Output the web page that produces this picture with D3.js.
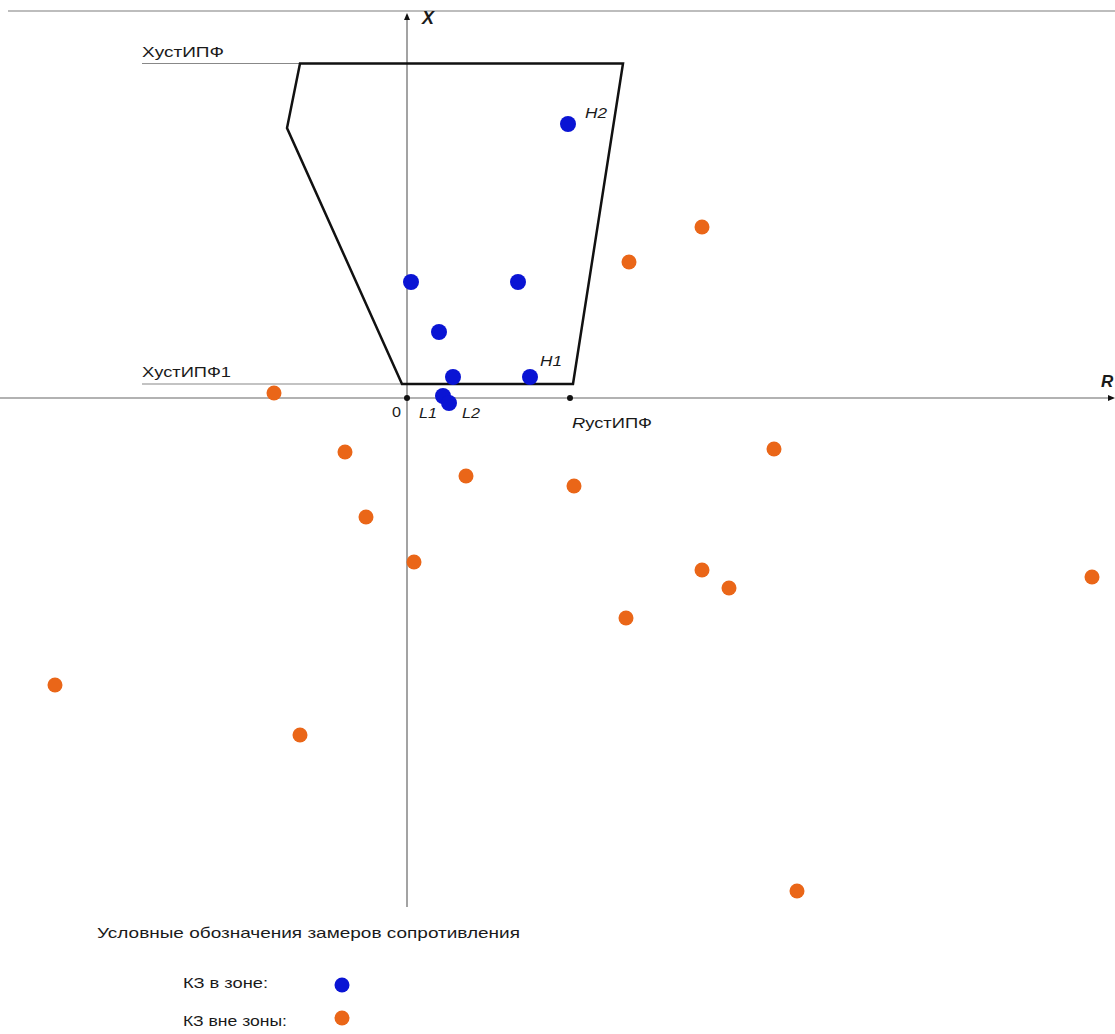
<!DOCTYPE html>
<html>
<head>
<meta charset="utf-8">
<script src="https://cdn.jsdelivr.net/npm/d3@7"></script>
<style>
  body { margin: 0; background: #fff; }
  text { font-family: "Liberation Sans", Arial, sans-serif; fill: #1a1a1a; }
</style>
</head>
<body>
<div id="chart"></div>
<script>
// impedance measurements, R and X in scale units
var inNames = ["H2", "", "", "", "", "H1", "L1", "L2"];
var inR = [16.1, 0.4, 11.1, 3.2, 4.6, 12.3, 3.6, 4.2];
var inX = [27.4, 11.6, 11.6, 6.6, 2.1, 2.1, 0.2, -0.5];

var outR = [29.5, 22.2, -13.3, -6.2, 5.9, 16.7, 36.7, -4.1, 0.7, 29.5, 32.2, 68.5, 21.9, -35.2, -10.7, 39.0];
var outX = [17.1, 13.6, 0.5, -5.4, -7.8, -8.8, -5.1, -11.9, -16.4, -17.2, -19.0, -17.9, -22.0, -28.7, -33.7, -49.3];

// characteristic polygon
var zoneR = [-10.7, 21.6, 16.6, -0.5, -12.0];
var zoneX = [33.45, 33.45, 1.4, 1.4, 27.0];

var xUst = 33.45, xUst1 = 1.4, rUst = 16.3;

var legendTitle = "Условные обозначения замеров сопротивления";
var legendLabels = ["КЗ в зоне:", "КЗ вне зоны:"];
var colors = ["#0a14d4", "#ea6618"];

var width = 1115, height = 1034;

var svg = d3.select("#chart").append("svg")
  .attr("width", width)
  .attr("height", height);

var x = d3.scaleLinear().domain([-40, 70]).range([7, 1107]);
var y = d3.scaleLinear().domain([40, -50]).range([-2, 898]);

// the source picture is stretched sideways, so text gets a fixed width
function label(px, py, str, len, size) {
  return svg.append("text")
    .attr("x", px).attr("y", py)
    .attr("textLength", len)
    .attr("lengthAdjust", "spacingAndGlyphs")
    .style("font-size", (size || 14) + "px")
    .text(str);
}

// frame line at top
svg.append("line")
  .attr("x1", 8).attr("x2", width)
  .attr("y1", 11).attr("y2", 11)
  .style("stroke", "#bdbdbd").style("stroke-width", 2);

// axes
svg.append("line")
  .attr("x1", 0).attr("x2", 1110)
  .attr("y1", y(0)).attr("y2", y(0))
  .style("stroke", "#666").style("stroke-width", 1.2);
svg.append("line")
  .attr("x1", x(0)).attr("x2", x(0))
  .attr("y1", 18).attr("y2", 907)
  .style("stroke", "#666").style("stroke-width", 1.2);

// arrows
svg.append("path")
  .attr("d", "M" + (x(0) - 3) + "," + 20 + "L" + x(0) + "," + 13 + "L" + (x(0) + 3) + "," + 20 + "Z")
  .style("fill", "#111");
svg.append("path")
  .attr("d", "M" + 1108 + "," + (y(0) - 3) + "L" + 1115 + "," + y(0) + "L" + 1108 + "," + (y(0) + 3) + "Z")
  .style("fill", "#111");

svg.append("text")
  .attr("x", 422).attr("y", 24)
  .style("font-size", "18px").style("font-style", "italic").style("font-weight", "bold")
  .text("X");
svg.append("text")
  .attr("x", 1101).attr("y", 387)
  .style("font-size", "17px").style("font-style", "italic").style("font-weight", "bold")
  .text("R");

// reference lines for the settings
svg.append("line")
  .attr("x1", 142).attr("x2", x(zoneR[0]))
  .attr("y1", y(xUst)).attr("y2", y(xUst))
  .style("stroke", "#888").style("stroke-width", 1.2);
svg.append("line")
  .attr("x1", 142).attr("x2", x(zoneR[3]))
  .attr("y1", y(xUst1)).attr("y2", y(xUst1))
  .style("stroke", "#888").style("stroke-width", 1.2);

label(142, y(xUst) - 7, "XустИПФ", 82);
label(142, y(xUst1) - 7, "XустИПФ1", 89);

// zone polygon
var zone = zoneR.map(function(r, i) { return [x(r), y(zoneX[i])]; });
svg.append("path")
  .attr("d", d3.line()(zone) + "Z")
  .style("fill", "none")
  .style("stroke", "#111")
  .style("stroke-width", 2.5)
  .style("stroke-linejoin", "miter");

// origin and R setting marks
svg.append("circle").attr("cx", x(0)).attr("cy", y(0)).attr("r", 3).style("fill", "#111");
svg.append("circle").attr("cx", x(rUst)).attr("cy", y(0)).attr("r", 3).style("fill", "#111");
label(392, 417, "0", 9);
var rl = label(x(rUst) + 2, 428, "", 80);
rl.append("tspan").style("font-style", "italic").text("R");
rl.append("tspan").text("устИПФ");

// points outside zone
svg.selectAll(".out")
  .data(outR)
  .enter().append("circle")
  .attr("class", "out")
  .attr("cx", function(d) { return x(d); })
  .attr("cy", function(d, i) { return y(outX[i]); })
  .attr("r", 7.5)
  .style("fill", colors[1]);

// points in zone
svg.selectAll(".in")
  .data(inR)
  .enter().append("circle")
  .attr("class", "in")
  .attr("cx", function(d) { return x(d); })
  .attr("cy", function(d, i) { return y(inX[i]); })
  .attr("r", 8)
  .style("fill", colors[0]);

var labelOffset = { H2: [17, -6], H1: [10, -11], L1: [-24, 22], L2: [13, 15] };
inNames.forEach(function(n, i) {
  if (n == "") return;
  label(x(inR[i]) + labelOffset[n][0], y(inX[i]) + labelOffset[n][1], n, n[0] == "H" ? 22 : 18)
    .style("font-style", "italic");
});

// legend
label(97, 938, legendTitle, 423, 15);

legendLabels.forEach(function(l, i) {
  label(183, 988 + i * 38, l, i == 0 ? 85 : 104);
  svg.append("circle")
    .attr("cx", 342).attr("cy", 985 + i * 33)
    .attr("r", 7.5)
    .style("fill", colors[i]);
});
</script>
</body>
</html>
